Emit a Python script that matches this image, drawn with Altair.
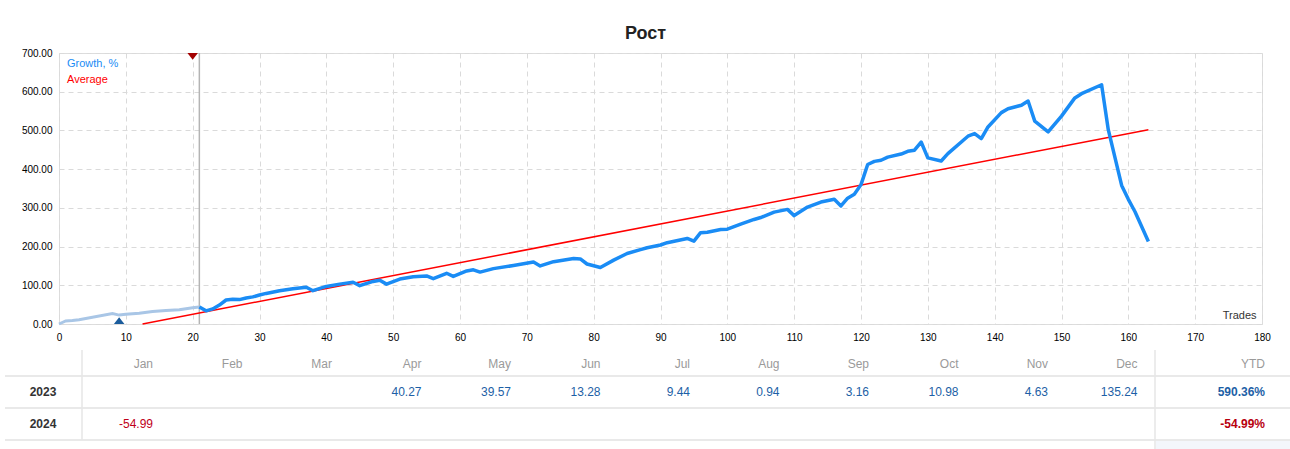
import altair as alt
import pandas as pd

# ---------------- data ----------------
trade_early = [0, 1, 2, 3, 8, 9, 10, 12, 14, 16, 18, 20, 21]
growth_early = [0, 8, 9, 11, 27, 23, 25, 28, 32, 35, 37, 42, 44]

trade_main = [21, 22, 23, 24, 25, 26, 27, 28, 29, 30, 31, 33, 35, 37, 38, 40, 42, 44, 45,
              47, 48, 49, 51, 53, 55, 56, 58, 59, 61, 62, 63, 65, 68, 71, 72, 74, 77, 78,
              79, 81, 83, 85, 87, 88, 90, 91, 94, 95, 96, 97, 99, 100, 102, 104, 105, 107,
              109, 110, 112, 114, 116, 117, 118, 119, 120, 121, 122, 123, 124, 126, 127,
              128, 129, 130, 132, 133, 136, 137, 138, 139, 141, 142, 144, 145, 146, 148,
              150, 152, 153, 156, 157, 159, 160, 161, 163]
growth_main = [44, 34, 39, 49, 62, 64, 63, 67, 70, 75, 79, 86, 91, 95, 86, 97, 103, 108, 99,
               110, 113, 103, 116, 122, 124, 117, 131, 123, 137, 140, 134, 143, 151, 160, 150,
               161, 169, 168, 155, 146, 165, 182, 192, 197, 204, 210, 221, 214, 236, 237, 244,
               245, 258, 270, 275, 289, 296, 280, 302, 315, 322, 305, 325, 335, 360, 412, 420,
               423, 431, 439, 446, 449, 470, 429, 421, 440, 485, 492, 479, 509, 546, 556, 565,
               576, 524, 496, 537, 584, 595, 618, 502, 358, 322, 290, 213]

avg_trades = [12.5, 163]
avg_growth = [0, 502]

marker_trades = [20, 9]
marker_growth = [700, 0]
marker_kind = ["withdrawal", "deposit"]

split_trade = [21]

x_ticks = list(range(0, 181, 10))
y_ticks = list(range(0, 701, 100))

legend_names = ["Growth, %", "Average"]

months = ["Jan", "Feb", "Mar", "Apr", "May", "Jun", "Jul", "Aug", "Sep", "Oct", "Nov", "Dec"]
years = ["2023", "2024"]
monthly_2023 = [None, None, None, 40.27, 39.57, 13.28, 9.44, 0.94, 3.16, 10.98, 4.63, 135.24]
monthly_2024 = [-54.99, None, None, None, None, None, None, None, None, None, None, None]
ytd_values = [590.36, -54.99]

# ---------------- styles ----------------
FONT = "Liberation Sans"
BLUE = "#1a8cf5"
LIGHT = "#a9c6e6"
RED = "#ff0000"
VAL_BLUE = "#1d5fa6"
VAL_RED = "#c0001a"
GRID = "#dadada"

W, H = 1203, 271

early_df = pd.DataFrame({"trade": trade_early, "growth": growth_early})
main_df = pd.DataFrame({"trade": trade_main, "growth": growth_main})
avg_df = pd.DataFrame({"trade": avg_trades, "growth": avg_growth})
mark_df = pd.DataFrame({"trade": marker_trades, "growth": marker_growth, "kind": marker_kind})
split_df = pd.DataFrame({"trade": split_trade})
legend_df = pd.DataFrame({"name": legend_names})

X = alt.X("trade:Q",
          scale=alt.Scale(domain=[0, 180], nice=False),
          axis=alt.Axis(values=x_ticks, grid=True, gridDash=[5, 4], gridColor=GRID,
                        ticks=False, domain=False, labelPadding=8, labelFlush=False,
                        title="Trades", titleAnchor="end", titleAlign="right",
                        titleBaseline="bottom", titleX=W - 6, titleY=-4,
                        titleFontWeight="normal", titleFontSize=11, titleColor="#333",
                        titleFont=FONT))
Y = alt.Y("growth:Q",
          scale=alt.Scale(domain=[0, 700], nice=False),
          axis=alt.Axis(values=y_ticks, format=".2f", grid=True, gridDash=[5, 4],
                        gridColor=GRID, ticks=False, domain=False, labelPadding=7,
                        title=None))

split_rule = alt.Chart(split_df).mark_rule(color="#b4b4b4", strokeWidth=1.5).encode(x=X)
early_line = alt.Chart(early_df).mark_line(color=LIGHT, strokeWidth=3).encode(x=X, y=Y)
main_line = alt.Chart(main_df).mark_line(color=BLUE, strokeWidth=3.5,
                                         strokeJoin="round").encode(x=X, y=Y)
avg_line = alt.Chart(avg_df).mark_line(color=RED, strokeWidth=1.5).encode(x=X, y=Y)
markers = alt.Chart(mark_df).mark_point(filled=True, size=110, opacity=1).encode(
    x=X, y=Y,
    shape=alt.Shape("kind:N", scale=alt.Scale(
        domain=["withdrawal", "deposit"],
        range=["M -1 0 L 1 0 L 0 1.3 Z", "M -1 0 L 1 0 L 0 -1.3 Z"]), legend=None),
    color=alt.Color("kind:N", scale=alt.Scale(domain=["withdrawal", "deposit"],
                                              range=["#a30000", "#1b5c9c"]), legend=None),
)
legend_txt = alt.Chart(legend_df).mark_text(align="left", baseline="middle", font=FONT,
                                            fontSize=11).encode(
    x=alt.value(8),
    y=alt.Y("name:N", scale=alt.Scale(type="point", domain=legend_names, range=[11, 27],
                                      padding=0), axis=None),
    text="name:N",
    color=alt.Color("name:N", scale=alt.Scale(domain=legend_names, range=[BLUE, RED]),
                    legend=None),
)

plot = alt.layer(split_rule, early_line, avg_line, main_line, markers)

# ---------------- table ----------------
rows = []
for y, vals in zip(years, [monthly_2023, monthly_2024]):
    for m, v in zip(months, vals):
        if v is not None:
            rows.append({"year": y, "month": m, "value": v})
cells_df = pd.DataFrame(rows)
hdr_df = pd.DataFrame({"month": months})
ytd_df = pd.DataFrame({"year": years, "ytd": ytd_values})
year_df = pd.DataFrame({"year": years})

TX = alt.X("month:N", bandPosition=1,
           scale=alt.Scale(type="band", domain=months, range=[4.5, 1078.5],
                           paddingInner=0, paddingOuter=0), axis=None)
ysc = alt.Scale(type="band", domain=years, range=[323, 387], paddingInner=0, paddingOuter=0)
TY = alt.Y("year:N", scale=ysc, axis=None)
sign_color = alt.condition("datum.value < 0", alt.value(VAL_RED), alt.value(VAL_BLUE))

header = alt.Chart(hdr_df).mark_text(align="right", baseline="middle", font=FONT,
                                     fontSize=12, color="#9a9a9a").encode(
    x=TX, y=alt.value(311), text="month:N")
ytd_hdr = alt.Chart(pd.DataFrame({"h": ["YTD"]})).mark_text(
    align="right", baseline="middle", font=FONT, fontSize=12, color="#9a9a9a").encode(
    x=alt.value(1206), y=alt.value(311), text="h:N")
cells = alt.Chart(cells_df).transform_calculate(
    label="replace(format(datum.value, '.2f'), '\u2212', '-')").mark_text(
    align="right", baseline="middle", font=FONT, fontSize=12).encode(
    x=TX, y=TY, text="label:N", color=sign_color)
ytd_cells = alt.Chart(ytd_df).transform_calculate(
    label="replace(format(datum.ytd, '.2f'), '\u2212', '-') + '%'").mark_text(
    align="right", baseline="middle", font=FONT, fontSize=12, fontWeight="bold").encode(
    x=alt.value(1206), y=TY, text="label:N",
    color=alt.condition("datum.ytd < 0", alt.value("#b8000f"), alt.value(VAL_BLUE)))
year_lbl = alt.Chart(year_df).mark_text(align="center", baseline="middle", font=FONT,
                                        fontSize=12, fontWeight="bold",
                                        color="#333").encode(
    x=alt.value(-16), y=TY, text="year:N")
row_lines = alt.Chart(year_df).mark_rule(color="#e2e2e2", strokeWidth=1.5).encode(
    y=alt.Y("year:N", scale=ysc, axis=None, bandPosition=1),
    x=alt.value(-54), x2=alt.value(1231))
top_line = alt.Chart(year_df).transform_filter("datum.year == '2023'").mark_rule(
    color="#e2e2e2", strokeWidth=1.5).encode(
    y=alt.Y("year:N", scale=ysc, axis=None, bandPosition=0),
    x=alt.value(-54), x2=alt.value(1231))
ytd_box = alt.Chart(pd.DataFrame({"a": [0]})).mark_rect(color="#f3f6fb").encode(
    x=alt.value(1097), x2=alt.value(1231), y=alt.value(388), y2=alt.value(396))
div_left = alt.Chart(pd.DataFrame({"a": [0]})).mark_rule(color="#e6e6e6",
                                                         strokeWidth=1.5).encode(
    x=alt.value(23), y=alt.value(297), y2=alt.value(387))
div_right = alt.Chart(pd.DataFrame({"a": [0]})).mark_rule(color="#e6e6e6",
                                                          strokeWidth=1.5).encode(
    x=alt.value(1096), y=alt.value(297), y2=alt.value(396))

table = alt.layer(ytd_box, row_lines, top_line, div_left, div_right, header, ytd_hdr,
                  cells, ytd_cells, year_lbl)

chart = alt.layer(plot, legend_txt, table).resolve_scale(
    x="independent", y="independent", color="independent", shape="independent"
).properties(
    width=W, height=H,
    autosize="none",
    padding={"left": 59, "top": 53, "right": 28, "bottom": 125},
    title=alt.Title("Рост", anchor="middle", frame="group", dx=-15, dy=24, offset=15,
                    baseline="alphabetic", font=FONT, fontSize=18, fontWeight="bold",
                    color="#222"),
).configure_view(stroke="#c6c6c6", strokeWidth=1).configure_axis(
    labelFont=FONT, labelFontSize=11, labelColor="#333"
).configure(background="white")

chart.save("out.html", embed_options={"renderer": "svg", "actions": False})
